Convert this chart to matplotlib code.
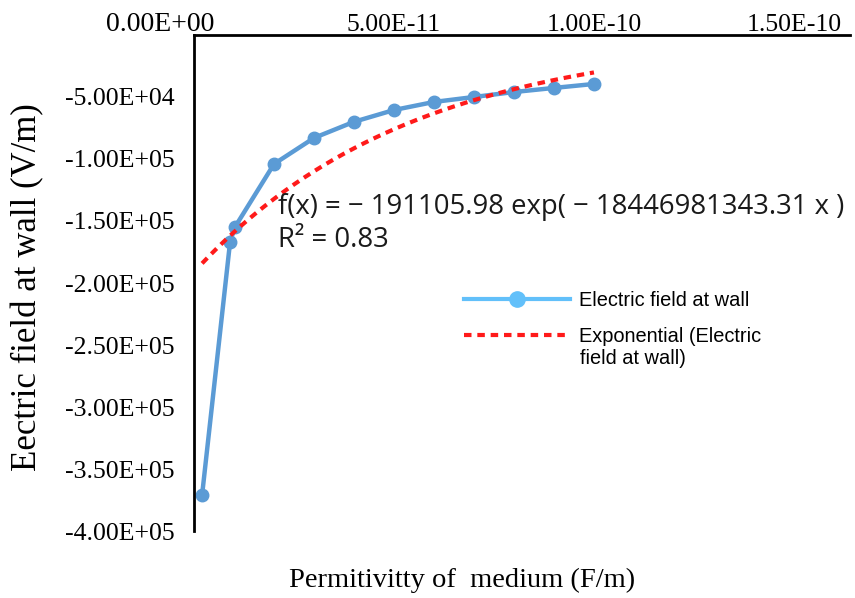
import numpy as np
import matplotlib
matplotlib.use("Agg")
import matplotlib.pyplot as plt
from matplotlib.ticker import FuncFormatter

# permittivity (F/m) and electric field at wall (V/m)
permittivity = [0.2e-11, 0.9e-11, 1.02e-11, 2e-11, 3e-11, 4e-11, 5e-11,
                6e-11, 7e-11, 8e-11, 9e-11, 10e-11]
field = [-371000, -167000, -155000, -104000, -83000, -70000, -60500,
         -54000, -50000, -46000, -42700, -39500]

# exponential trendline coefficients
fit_a = -191105.98
fit_b = -18446981343.31

x_ticks = [0, 5e-11, 1e-10, 1.5e-10]
y_ticks = [-5e4, -1e5, -1.5e5, -2e5, -2.5e5, -3e5, -3.5e5, -4e5]

serif = "Liberation Serif"
sans = "Liberation Sans"

fig = plt.figure(figsize=(8.55, 5.98), dpi=100)
ax = fig.add_axes([0.227, 0.112, 0.767, 0.8295])

xs = np.linspace(min(permittivity), max(permittivity), 200)
trend, = ax.plot(xs, fit_a * np.exp(fit_b * xs), color="#ff1a1a", lw=3,
                 dashes=(1.8, 1.4), label="Exponential (Electric", zorder=3)
ax.plot(permittivity, field, color="#5b9bd5", lw=3.2, marker="o", ms=9,
        zorder=2)
# legend proxy with lighter colour as in the reference
blue_proxy, = ax.plot([], [], color="#62c0fa", lw=3, marker="o", ms=11,
                      label="Electric field at wall")

ax.set_xlim(0, 1.64e-10)
ax.set_ylim(-4e5, 0)
ax.set_xticks(x_ticks)
ax.set_yticks(y_ticks)
ax.xaxis.tick_top()
# the 0 label sits left of the spine in the reference, drawn separately below
ax.xaxis.set_major_formatter(FuncFormatter(lambda v, p: "" if v == 0 else f"{v:.2E}"))
ax.yaxis.set_major_formatter(FuncFormatter(lambda v, p: f"{v:.2E}"))
ax.tick_params(axis="x", length=0, pad=-1, labelsize=18.5)
ax.tick_params(axis="y", length=0, pad=14, labelsize=18.5)
for lab in ax.get_xticklabels() + ax.get_yticklabels():
    lab.set_fontfamily(serif)

fig.text(160 / 855, 1 - 31 / 598, f"{x_ticks[0]:.2E}", fontsize=20,
         fontfamily=serif, ha="center", va="baseline")

ax.spines["right"].set_visible(False)
ax.spines["bottom"].set_visible(False)
ax.spines["left"].set_linewidth(2)
ax.spines["top"].set_linewidth(2)

fig.text(278 / 855, 1 - 207 / 598, "f(x) = \u2212 191105.98 exp( \u2212 18446981343.31 x )",
         fontsize=19.8, fontfamily="Open Sans", va="center", ha="left", color="#1a1a1a")
fig.text(278 / 855, 1 - 240 / 598, "R\u00b2 = 0.83",
         fontsize=19.8, fontfamily="Open Sans", va="center", ha="left", color="#1a1a1a")

ax.legend(handles=[blue_proxy, trend], loc="upper left",
          bbox_to_anchor=(446 / 855, 1 - 273 / 598),
          bbox_transform=fig.transFigure, frameon=False, handlelength=5.3,
          prop={"family": sans, "size": 14.4}, labelspacing=0.85, handletextpad=0.45)
# second line of the trendline label, handle stays on the first line
fig.text(580 / 855, 1 - 358 / 598, "field at wall)", fontsize=14.4,
         fontfamily=sans, ha="left", va="center")

fig.text(28 / 855, 1 - 287 / 598, "Eectric field at wall (V/m)", rotation=90,
         fontsize=25, fontfamily=serif, ha="center", va="center")
fig.text(462 / 855, 1 - 580 / 598, "Permitivitty of  medium (F/m)",
         fontsize=20.5, fontfamily=serif, ha="center", va="center")

fig.savefig("out.png", dpi=100, facecolor="white")
